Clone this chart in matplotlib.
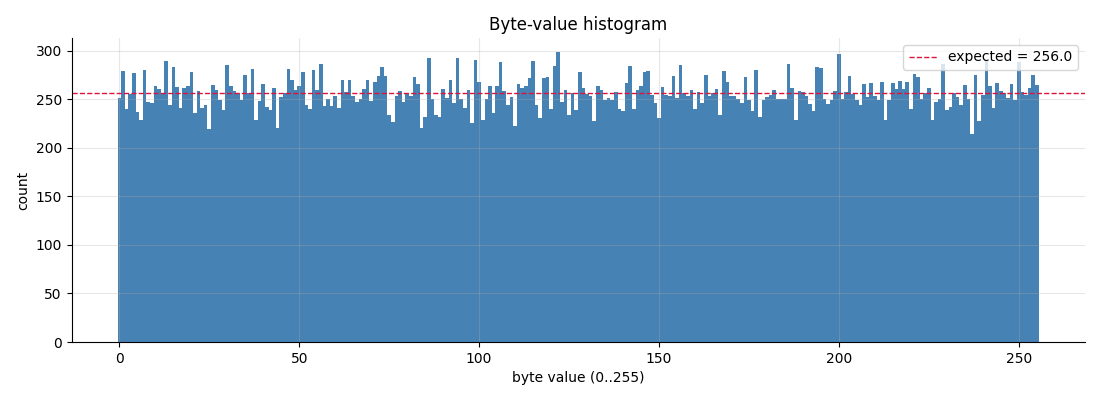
import numpy as np
import matplotlib
matplotlib.use("Agg")
import matplotlib.pyplot as plt

# -------------------------------------------------------------
# Data: count of each byte value 0..255
# -------------------------------------------------------------
byte_values = np.arange(256)

counts = [
    # 0-21
    251, 279, 240, 255, 277, 237, 228, 280, 247, 246, 264, 260, 256, 289, 244, 283, 262, 241, 261, 264, 278, 236,
    # 22-42
    258, 241, 244, 219, 265, 259, 249, 239, 285, 264, 258, 256, 249, 275, 256, 281, 229, 248, 266, 242, 239,
    # 43-64
    261, 220, 252, 256, 281, 270, 259, 264, 278, 244, 240, 280, 259, 286, 243, 250, 243, 253, 241, 270, 257, 270,
    # 65-86
    253, 247, 250, 260, 270, 248, 268, 274, 283, 274, 234, 226, 253, 258, 247, 256, 253, 273, 266, 220, 232, 292,
    # 87-107
    250, 234, 232, 260, 251, 270, 246, 292, 250, 241, 259, 225, 290, 268, 228, 250, 264, 236, 263, 288, 258,
    # 108-129
    244, 252, 222, 266, 261, 263, 272, 289, 244, 231, 272, 273, 240, 284, 298, 247, 259, 234, 256, 239, 278, 261,
    # 130-151
    255, 253, 227, 263, 259, 249, 251, 249, 257, 240, 238, 267, 284, 240, 259, 264, 278, 279, 254, 246, 231, 262,
    # 152-172
    254, 253, 274, 251, 285, 256, 253, 259, 240, 257, 246, 275, 253, 256, 260, 234, 279, 268, 253, 253, 250,
    # 173-194
    246, 273, 249, 238, 280, 232, 249, 252, 254, 259, 250, 250, 250, 286, 261, 228, 258, 257, 253, 245, 238, 283,
    # 195-216
    282, 250, 245, 249, 258, 296, 250, 257, 274, 255, 249, 244, 266, 252, 267, 253, 249, 268, 229, 249, 267, 260,
    # 217-237
    269, 260, 268, 240, 276, 273, 250, 256, 261, 228, 247, 250, 286, 239, 242, 256, 252, 244, 265, 250, 214,
    # 238-255
    275, 227, 254, 290, 263, 241, 267, 258, 256, 251, 266, 249, 288, 257, 254, 261, 275, 265,
]

expected = 256.0


def plot_histogram():
    fig, ax = plt.subplots(figsize=(11, 4), dpi=100)

    # bars are one byte value wide, sitting edge to edge
    ax.bar(byte_values, counts, width=1.0, color="steelblue")

    # uniform expectation
    ax.axhline(expected, color="crimson", linestyle="--", linewidth=1,
               label=f"expected = {expected:.1f}")

    ax.set_title("Byte-value histogram")
    ax.set_xlabel("byte value (0..255)")
    ax.set_ylabel("count")
    ax.grid(True, alpha=0.3)
    ax.spines["top"].set_visible(False)
    ax.spines["right"].set_visible(False)
    ax.legend(loc="upper right")

    fig.subplots_adjust(left=0.065, right=0.986, bottom=0.145, top=0.905)
    fig.savefig("out.png")


if __name__ == "__main__":
    plot_histogram()
